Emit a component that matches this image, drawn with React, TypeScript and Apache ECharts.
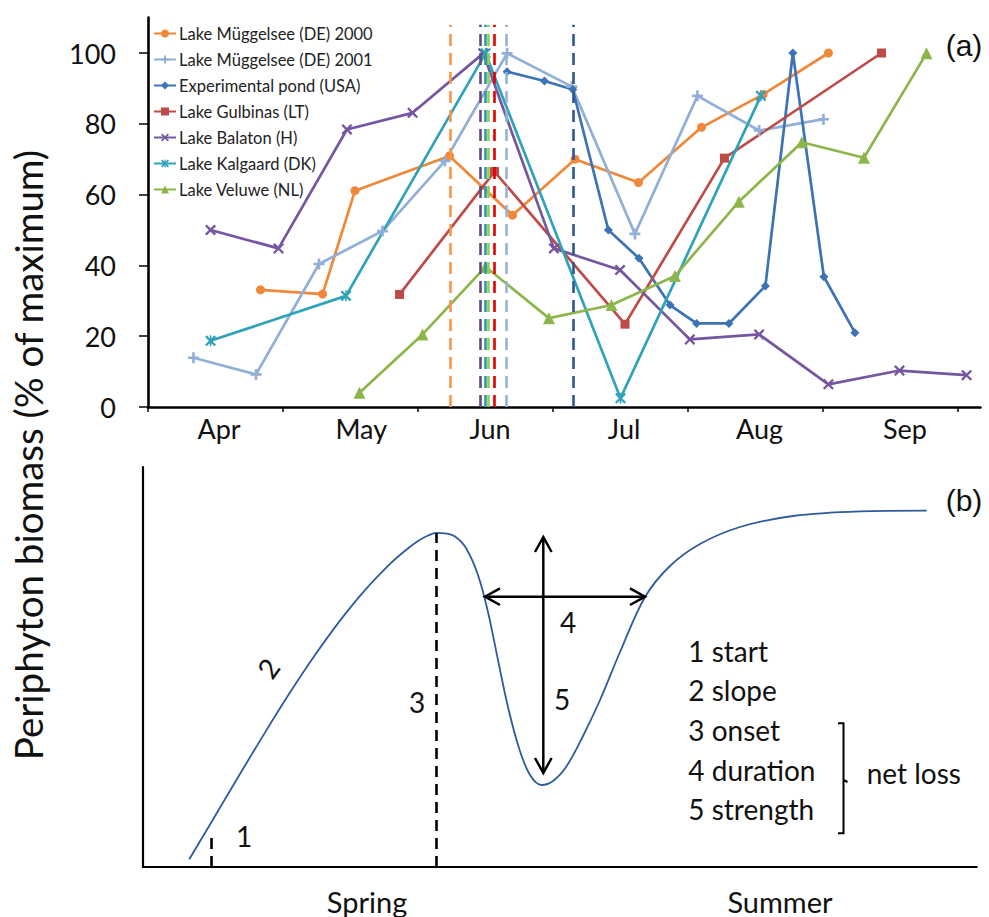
import React, { useEffect, useRef } from 'react';
import * as echarts from 'echarts';

// ---------- Panel (a) data ----------
// x = days since 1 April, y = % of maximum
const monthLabels = ['Apr', 'May', 'Jun', 'Jul', 'Aug', 'Sep'];
const monthLabelDays = [15.8, 47.4, 76, 105.8, 135.9, 168.2];
const monthTickDays = [0, 30, 60, 90, 120, 150, 180];
const yTicks = [0, 20, 40, 60, 80, 100];

const seriesNames = [
  'Lake Müggelsee (DE) 2000',
  'Lake Müggelsee (DE) 2001',
  'Experimental pond (USA)',
  'Lake Gulbinas (LT)',
  'Lake Balaton (H)',
  'Lake Kalgaard (DK)',
  'Lake Veluwe (NL)',
];

const mugg2000 = [[25.0, 33.1], [38.8, 31.9], [46.0, 61.1], [67.0, 70.9], [81.0, 54.2], [94.9, 70.0], [109.0, 63.4], [123.0, 79.0], [136.7, 88.3], [151.2, 100]];
const mugg2001 = [[10.1, 13.9], [24.0, 9.2], [38.0, 40.4], [52.1, 49.7], [66.0, 69.5], [79.8, 99.9], [94.2, 90.5], [108.2, 48.9], [122.1, 87.9], [135.8, 78.1], [150.1, 81.3]];
const pond = [[79.8, 94.7], [88.1, 92.1], [94.4, 89.7], [102.3, 50.0], [109.1, 42.0], [116.0, 28.8], [121.9, 23.6], [129.1, 23.6], [137.2, 34.2], [143.3, 100], [150.2, 36.8], [157.1, 21.0]];
const gulbinas = [[55.9, 31.8], [77.0, 66.5], [106.0, 23.4], [128.1, 70.3], [163.0, 100]];
const balaton = [[13.9, 50.0], [29.0, 44.8], [44.2, 78.4], [58.8, 83.1], [74.5, 99.9], [90.2, 44.8], [104.9, 38.7], [120.4, 19.1], [135.8, 20.5], [151.2, 6.4], [167.0, 10.3], [181.9, 9.0]];
const kalgaard = [[13.9, 18.7], [44.0, 31.4], [75.0, 99.9], [105.0, 2.5], [136.2, 87.9]];
const veluwe = [[47.0, 4.0], [61.0, 20.5], [75.0, 39.6], [89.1, 25.1], [103.0, 28.8], [117.1, 37.0], [131.3, 58.0], [145.3, 74.8], [159.1, 70.4], [173.0, 99.9]];

// onset of net loss (day) for each series, drawn as dashed verticals
const onsetDays = [67.1, 79.7, 94.4, 76.9, 73.9, 74.9, 75.6];
const onsetColors = ['#F79646', '#95B3D7', '#2F5597', '#E00000', '#604A7B', '#2E9AB0', '#92D050'];

// ---------- Panel (b) data (conceptual curve) ----------
const curve = [
  [5.55, 1.93], [8.64, 12.73], [11.63, 23.23], [14.63, 33.6], [17.63, 43.6], [20.63, 52.98],
  [23.63, 61.6], [26.63, 69.23], [29.63, 75.78], [31.43, 79.08], [32.99, 81.5], [34.19, 82.88],
  [35.23, 83.53], [36.22, 83.43], [37.42, 82.63], [38.74, 79.75], [40.18, 73.0], [41.38, 63.75],
  [42.58, 51.75], [43.78, 40.0], [45.10, 29.75], [46.42, 23.0], [47.82, 20.5], [49.18, 21.5],
  [50.74, 25.0], [52.66, 32.25], [54.82, 41.75], [57.22, 53.75], [60.22, 67.5], [63.21, 75.25],
  [66.81, 80.75], [71.61, 85.0], [77.97, 87.75], [86.0, 88.9], [94.0, 89.1],
];
const startX = 8.24;
const onsetX = 35.23;
const peakY = 83.53;
const metricLines = ['1 start', '2 slope', '3 onset', '4 duration', '5 strength'];
const seasonLabels = ['Spring', 'Summer'];

const plusPath = 'path://M3.8,0H6.2V3.8H10V6.2H6.2V10H3.8V6.2H0V3.8H3.8Z';
const crossPath = 'path://M0,1.5L1.5,0L5,3.5L8.5,0L10,1.5L6.5,5L10,8.5L8.5,10L5,6.5L1.5,10L0,8.5L3.5,5Z';
const starPath = crossPath + 'M4.3,0H5.7V10H4.3Z';

const colors = ['#F0883A', '#92AFD8', '#3C73B5', '#BE4B48', '#7556A0', '#2FA3B8', '#8DB64A'];
const symbols = ['circle', plusPath, 'diamond', 'rect', crossPath, starPath, 'triangle'];
const symbolSizes = [9, 11, 9, 9, 11, 11, 12];
const allData = [mugg2000, mugg2001, pond, gulbinas, balaton, kalgaard, veluwe];

const FONT = 'Lato, "Open Sans", sans-serif';

export default function App() {
  const ref = useRef<HTMLDivElement>(null);
  useEffect(() => {
    if (!ref.current) return;
    const chart = echarts.init(ref.current, undefined, { renderer: 'svg' });

    const seriesA = allData.map((d, i) => ({
      name: seriesNames[i],
      type: 'line',
      xAxisIndex: 0,
      yAxisIndex: 0,
      data: d,
      symbol: symbols[i],
      symbolSize: symbolSizes[i],
      showAllSymbol: true,
      lineStyle: { color: colors[i], width: 2.7 },
      itemStyle: { color: colors[i] },
      emphasis: { disabled: true },
      z: 3,
      markLine: {
        silent: true,
        symbol: ['none', 'none'],
        label: { show: false },
        lineStyle: { color: onsetColors[i], width: 2.6, type: [12, 7] },
        data: [[{ coord: [onsetDays[i], 0] }, { coord: [onsetDays[i], 108] }]],
      },
    }));

    const seriesB = {
      name: 'curve',
      type: 'line',
      xAxisIndex: 1,
      yAxisIndex: 1,
      data: curve,
      smooth: 0.35,
      symbol: 'none',
      lineStyle: { color: '#2E5B9E', width: 1.8 },
      emphasis: { disabled: true },
      markLine: {
        silent: true,
        symbol: ['none', 'none'],
        label: { show: false },
        lineStyle: { color: '#000', width: 2.6, type: [11, 7] },
        data: [
          [{ coord: [onsetX, 0] }, { coord: [onsetX, peakY] }],
          [{ coord: [startX, 0] }, { coord: [startX, 8] }],
        ],
      },
    };

    const txt = (text: string, x: number, y: number, size: number, extra: any = {}) => ({
      type: 'text',
      x,
      y,
      z: 10,
      ...extra,
      style: {
        text,
        font: `${size}px ${FONT}`,
        fill: '#111',
        align: 'center',
        verticalAlign: 'middle',
        ...(extra.style || {}),
      },
    });
    const pl = (points: number[][], w = 2.5) => ({
      type: 'polyline',
      z: 10,
      shape: { points },
      style: { stroke: '#000', lineWidth: w, fill: null },
    });

    const graphics: any[] = [
      txt('Periphyton biomass (% of maximum)', 28, 455, 38.5, { rotation: Math.PI / 2 }),
      { type: 'text', x: 964, y: 45, z: 10, style: { text: '(a)', font: '30px "Liberation Sans", Arial, sans-serif', fill: '#111', align: 'center', verticalAlign: 'middle' } },
      { type: 'text', x: 964, y: 500, z: 10, style: { text: '(b)', font: '30px "Liberation Sans", Arial, sans-serif', fill: '#111', align: 'center', verticalAlign: 'middle' } },
      txt(seasonLabels[0], 367, 901, 29),
      txt(seasonLabels[1], 780, 901, 29),
      txt('1', 244, 836, 28),
      txt('2', 268, 668, 28, { rotation: 0.95 }),
      txt('3', 417, 702, 28),
      txt('4', 568, 622, 28),
      txt('5', 562, 699, 28),
      // vertical double arrow
      pl([[543.3, 537], [543.3, 773]]),
      pl([[535, 552], [543.3, 537], [551.6, 552]]),
      pl([[535, 758], [543.3, 773], [551.6, 758]]),
      // horizontal double arrow
      pl([[485, 596.7], [645, 596.7]]),
      pl([[500, 588.4], [485, 596.7], [500, 605]]),
      pl([[630, 588.4], [645, 596.7], [630, 605]]),
      // bracket
      pl([[838, 723.3], [843.5, 723.3], [843.5, 833.3], [838, 833.3]], 2),
      pl([[843.5, 780], [847.5, 782]], 2),
      txt('net loss', 866.7, 773, 28, { style: { align: 'left' } }),
    ];
    metricLines.forEach((m, i) => {
      graphics.push(txt(m, 688.3, 650.8 + i * 39.6, 28, { style: { align: 'left' } }));
    });

    const option: any = {
      animation: false,
      backgroundColor: '#fff',
      textStyle: { fontFamily: FONT },
      grid: [
        { left: 148, right: 8.5, top: 17.6, bottom: 510, containLabel: false, outerBoundsMode: 'none' },
        { left: 143, right: 12.3, top: 467, bottom: 50, containLabel: false, outerBoundsMode: 'none' },
      ],
      legend: {
        data: seriesNames,
        orient: 'vertical',
        left: 148,
        top: 19.5,
        itemWidth: 22,
        itemHeight: 10,
        itemGap: 8,
        padding: 5,
        selectedMode: false,
        textStyle: { fontFamily: FONT, fontSize: 16.5, color: '#222', lineHeight: 18, padding: [0, 0, 0, -2] },
      },
      xAxis: [
        {
          type: 'value', gridIndex: 0, min: 0, max: 185,
          axisLine: { show: true, onZero: false, lineStyle: { color: '#000', width: 2.6 } },
          axisTick: { show: true, customValues: monthTickDays, length: 5, lineStyle: { color: '#000', width: 1.5 } },
          axisLabel: {
            show: true,
            customValues: monthLabelDays,
            formatter: (v: number) => {
              const i = monthLabelDays.findIndex((d) => Math.abs(d - v) < 0.01);
              return i >= 0 ? monthLabels[i] : '';
            },
            fontSize: 27, color: '#111', fontFamily: FONT, margin: 8,
          },
          splitLine: { show: false },
        },
        {
          type: 'value', gridIndex: 1, min: 0, max: 100,
          axisLine: { show: true, onZero: false, lineStyle: { color: '#000', width: 2.2 } },
          axisTick: { show: false }, axisLabel: { show: false }, splitLine: { show: false },
        },
      ],
      yAxis: [
        {
          type: 'value', gridIndex: 0, min: 0, max: 110,
          axisLine: { show: true, onZero: false, lineStyle: { color: '#000', width: 2.6 } },
          axisTick: { show: true, customValues: yTicks, length: 9, lineStyle: { color: '#000', width: 1.5 } },
          axisLabel: { show: true, customValues: yTicks, fontSize: 27, color: '#111', fontFamily: FONT, margin: 32 },
          splitLine: { show: false },
        },
        {
          type: 'value', gridIndex: 1, min: 0, max: 100,
          axisLine: { show: true, onZero: false, lineStyle: { color: '#000', width: 2.2 } },
          axisTick: { show: false }, axisLabel: { show: false }, splitLine: { show: false },
        },
      ],
      series: [...seriesA, seriesB],
      graphic: graphics,
    };
    chart.setOption(option);
    return () => chart.dispose();
  }, []);
  return (
    <div
      ref={ref}
      style={{ position: 'fixed', left: 0, top: 0, width: 989, height: 917, background: '#fff' }}
    />
  );
}
